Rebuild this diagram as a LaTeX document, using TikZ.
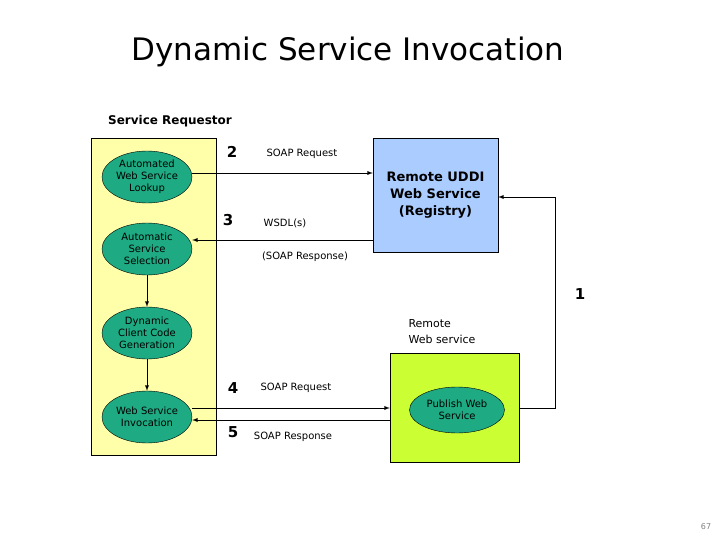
\documentclass[tikz,border=0pt]{standalone}
\usepackage{fontspec}
\setmainfont{DejaVu Sans}
\usetikzlibrary{shapes.geometric}
\definecolor{reqyellow}{RGB}{255,255,170}
\definecolor{uddiblue}{RGB}{170,204,255}
\definecolor{pubgreen}{RGB}{204,255,51}
\definecolor{stageteal}{RGB}{30,170,130}
\tikzset{
    stage/.style={ellipse, draw, fill=stageteal, minimum width=90pt, minimum height=52pt,
        inner sep=0pt, align=center, font=\fontsize{10}{12}\selectfont},
    lbl/.style={font=\fontsize{10}{12}\selectfont},
    num/.style={font=\bfseries\fontsize{15}{15}\selectfont},
    flow/.style={draw, line width=0.9pt, -latex}
}
\begin{document}
\begin{tikzpicture}[x=1pt, y=-1pt]
    \useasboundingbox (0,0) rectangle (720,540);
    % Title
    \node (title) at (348,52) {\fontsize{31}{33}\selectfont Dynamic Service Invocation};
    \node[font=\bfseries\fontsize{12}{14}\selectfont] (req) at (170,121) {Service Requestor};
    % boxes
    \draw[fill=reqyellow] (91,138) rectangle (216,455);
    \node[draw, fill=uddiblue, minimum width=125pt, minimum height=114pt, inner sep=0pt,
        align=center, font=\bfseries\fontsize{13}{17}\selectfont] (uddi) at (435.5,195)
        {Remote UDDI\\Web Service\\(Registry)};
    \node[draw, fill=pubgreen, minimum width=129pt, minimum height=109pt, inner sep=0pt] (remote) at (454.5,407.5) {};
    \node[align=left, anchor=west, font=\fontsize{11}{16}\selectfont] (rlabel) at (405,332) {Remote\\Web service};
    % stages
    \node[stage] (lookup) at (147,177) {Automated\\Web Service\\Lookup};
    \node[stage] (select) at (147,249) {Automatic\\Service\\Selection};
    \node[stage] (gen) at (147,333) {Dynamic\\Client Code\\Generation};
    \node[stage] (invoke) at (147,417) {Web Service\\Invocation};
    \node[stage, minimum width=95pt, minimum height=46pt] (publish) at (457,410) {Publish Web\\Service};
    % connectors
    \draw[flow] (select) -- (gen);
    \draw[flow] (gen) -- (invoke);
    \draw[flow] (lookup.east |- 0,173) -- (uddi.west |- 0,173);
    \draw[flow] (uddi.west |- 0,240) -- (select.east |- 0,240);
    \draw[flow] (invoke.east |- 0,408) -- (remote.west |- 0,408);
    \draw[flow] (remote.west |- 0,420) -- (invoke.east |- 0,420);
    \coordinate (c1) at (555,408);
    \coordinate (c2) at (555,197);
    \draw[flow] (remote.east |- c1) -- (c1) -- (c2) -- (uddi.east |- c2);
    % labels
    \node[num] (n1) at (580,294) {1};
    \node[num] (n2) at (232,152) {2};
    \node[lbl] (l2) at (302,154) {SOAP Request};
    \node[num] (n3) at (228,220) {3};
    \node[lbl] (l3) at (285,223) {WSDL(s)};
    \node[lbl] (l3b) at (305,257) {(SOAP Response)};
    \node[num] (n4) at (233,388) {4};
    \node[lbl] (l4) at (296,388) {SOAP Request};
    \node[num] (n5) at (233,432) {5};
    \node[lbl] (l5) at (293,437) {SOAP Response};
    \node[text=gray, font=\fontsize{8}{8}\selectfont] (page) at (706,527) {67};
\end{tikzpicture}
\end{document}
